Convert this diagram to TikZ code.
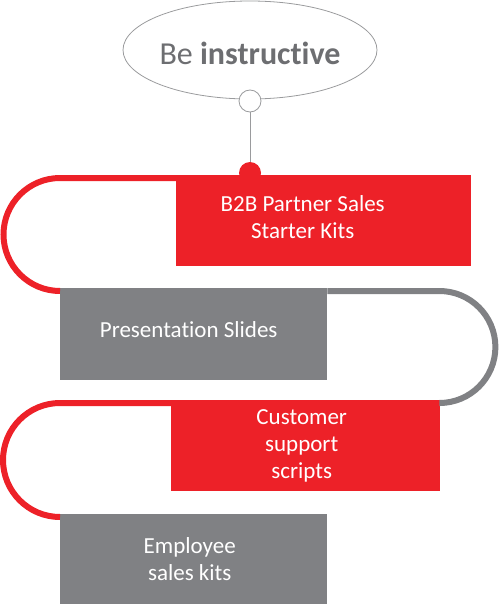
\documentclass[tikz,border=0pt]{standalone}
\usepackage{fontspec}
\setmainfont{Carlito}[Ligatures=NoCommon]
\usetikzlibrary{positioning,shapes.geometric}
\definecolor{bred}{HTML}{ED2128}
\definecolor{bgray}{HTML}{808184}
\definecolor{lgray}{HTML}{9A9B9D}
\definecolor{tgray}{HTML}{6D6E71}

\begin{document}
\begin{tikzpicture}[x=1pt,y=-1pt,
  box/.style={anchor=north west, inner sep=0pt, minimum width=#1},
  redbox/.style={box=#1, fill=bred, minimum height=91pt},
  graybox/.style={box=#1, fill=bgray, minimum height=92pt},
  txt/.style={text=white, align=center, font=\fontsize{23}{27}\selectfont},
  redloop/.style={draw=bred, line width=6pt},
  grayloop/.style={draw=bgray, line width=6pt}]
  \useasboundingbox (0,0) rectangle (500,605);

  % title balloon
  \node[draw=lgray, line width=0.8pt, ellipse, minimum width=254pt, minimum height=98pt] (title) at (250,50) {};
  \node[font=\fontsize{32}{34}\selectfont, text=tgray] (titlet) at (250,53) {Be \textbf{instructive}};
  \node[draw=lgray, line width=0.8pt, circle, fill=white, minimum size=22pt, inner sep=0pt] (knob) at (250,101) {};
  \node[circle, fill=bred, minimum size=22pt, inner sep=0pt] (dot) at (250,173) {};
  \draw[lgray, line width=1pt] (knob) -- (dot);

  % the four steps
  \node[redbox=295pt] (b2b) at (176,175) {};
  \node[graybox=267pt] (slides) at (60,288) {};
  \node[redbox=269pt] (cust) at (171,400) {};
  \node[graybox=267pt, minimum height=90pt] (emp) at (60,514) {};

  \node[txt] (b2bt) at ([xshift=-21pt,yshift=4pt]b2b.center) {B2B Partner Sales\\Starter Kits};
  \node[txt] (slidest) at ([xshift=-5pt,yshift=5pt]slides.center) {Presentation Slides};
  \node[txt] (custt) at ([xshift=-4pt]cust.center) {Customer\\support\\scripts};
  \node[txt] (empt) at ([xshift=-4pt]emp.center) {Employee\\sales kits};

  % loops between the steps
  \draw[redloop] ([yshift=-3pt]b2b.north west) -- ([yshift=-3pt]b2b.north west -| slides.west)
    arc[start angle=90, end angle=270, radius=56.5pt];
  \draw[grayloop] ([yshift=-3pt]slides.north east) -- ++(112,0)
    arc[start angle=90, end angle=-90, radius=56pt] -- ([yshift=-3pt]cust.north east);
  \draw[redloop] ([yshift=-3pt]cust.north west) -- ([yshift=-3pt]cust.north west -| emp.west)
    arc[start angle=90, end angle=270, radius=57pt];
\end{tikzpicture}
\end{document}
